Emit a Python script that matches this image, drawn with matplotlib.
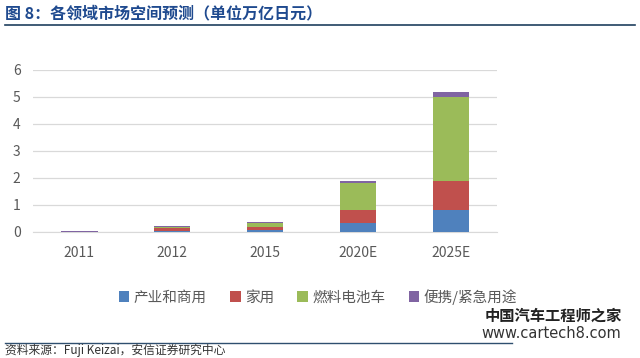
import matplotlib
matplotlib.use("Agg")
import matplotlib.pyplot as plt
import numpy as np

plt.rcParams['font.family'] = ['Noto Sans CJK SC', 'DejaVu Sans']

categories = ['2011', '2012', '2015', '2020E', '2025E']
series_names = ['产业和商用', '家用', '燃料电池车', '便携/紧急用途']
industrial = [0.005, 0.05, 0.08, 0.33, 0.80]
household = [0.01, 0.10, 0.12, 0.47, 1.07]
fcv = [0.0, 0.02, 0.12, 1.01, 3.13]
portable = [0.01, 0.04, 0.04, 0.09, 0.17]
colors = ['#4F81BD', '#C0504D', '#9BBB59', '#8064A2']
yticks = [0, 1, 2, 3, 4, 5, 6]

fig = plt.figure(figsize=(6.4, 3.58), dpi=100)
ax = fig.add_axes([0.0516, 0.352, 0.725, 0.4525])

x = np.arange(len(categories))
bottom = np.zeros(len(categories))
for vals, name, c in zip([industrial, household, fcv, portable], series_names, colors):
    ax.bar(x, vals, bottom=bottom, width=0.39, color=c, label=name, zorder=3)
    bottom += np.array(vals)

ax.set_xlim(-0.5, len(categories) - 0.5)
ax.set_ylim(0, 6)
ax.set_yticks(yticks)
ax.set_xticks(x)
ax.set_xticklabels(categories)
ax.yaxis.grid(True, color='#D9D9D9', linewidth=0.9, zorder=0)
for s in ['top', 'right', 'left']:
    ax.spines[s].set_visible(False)
ax.spines['bottom'].set_color('#D9D9D9')
ax.tick_params(axis='both', length=0, colors='#595959', labelsize=10)
ax.tick_params(axis='x', pad=10)
ax.tick_params(axis='y', pad=9)

leg = ax.legend(loc='upper center', bbox_to_anchor=(0.614, -0.27), ncol=4, frameon=False,
                handlelength=0.7, handleheight=0.7, handletextpad=0.3, columnspacing=1.6,
                prop={'size': 10.5})
for t in leg.get_texts():
    t.set_color('#595959')

# title and rules
fig.text(0.008, 0.962, '图 8：各领域市场空间预测（单位万亿日元）', fontsize=11.5, fontweight='bold',
         color='#1F4A8F', va='center', ha='left')
fig.add_artist(plt.Line2D([0.008, 0.992], [0.93, 0.93], color='#1F3F5F', linewidth=1.2))
fig.add_artist(plt.Line2D([0.008, 0.80], [0.042, 0.042], color='#2F4F6F', linewidth=1.0))
fig.text(0.008, 0.022, '资料来源：Fuji Keizai，安信证券研究中心', fontsize=8.5, style='italic',
         color='#333333', va='center', ha='left')
fig.text(0.972, 0.117, '中国汽车工程师之家', fontsize=11, fontweight='bold', color='#222222',
         va='center', ha='right')
fig.text(0.97, 0.068, 'www.cartech8.com', fontsize=10.5, color='#333333', va='center', ha='right',
         family=['Liberation Sans Narrow', 'DejaVu Sans'])

fig.savefig('out.png', dpi=100)
